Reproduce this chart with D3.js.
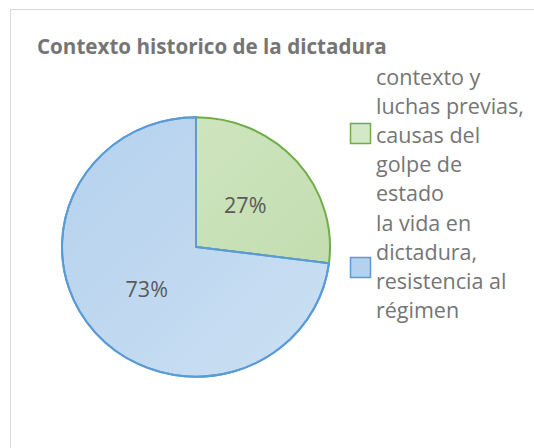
<!DOCTYPE html>
<html>
<head>
<meta charset="utf-8">
<script src="https://cdn.jsdelivr.net/npm/d3@7"></script>
<style>
  body { margin: 0; background: #fff; }
  svg { display: block; font-family: "Open Sans", sans-serif; }
</style>
</head>
<body>
<svg id="chart" width="534" height="448"></svg>
<script>
// chart data
var title = "Contexto historico de la dictadura";
var categories = [
  ["contexto y", "luchas previas,", "causas del", "golpe de", "estado"],
  ["la vida en", "dictadura,", "resistencia al", "régimen"]
];
var values = [27, 73];
var fills = [["#d3e8c6", "#bfdaa9"], ["#b5d1ed", "#cbe0f3"]];
var strokes = ["#70ad47", "#5b9bd5"];

var svg = d3.select("#chart");
var defs = svg.append("defs");

fills.forEach(function(f, i) {
  var g = defs.append("linearGradient")
    .attr("id", "grad" + i)
    .attr("gradientUnits", "userSpaceOnUse")
    .attr("x1", -134).attr("y1", -134).attr("x2", 134).attr("y2", 134);
  g.append("stop").attr("offset", "0%").attr("stop-color", f[0]);
  g.append("stop").attr("offset", "100%").attr("stop-color", f[1]);
});

// outer frame
svg.append("rect")
  .attr("x", 10.5).attr("y", 9.5)
  .attr("width", 600).attr("height", 600)
  .attr("fill", "#fff")
  .attr("stroke", "#d9d9d9");

svg.append("text")
  .attr("x", 37).attr("y", 54)
  .attr("font-size", 20.6)
  .attr("font-weight", "bold")
  .attr("fill", "#757575")
  .text(title);

var cx = 196, cy = 247, r = 134, sy = 0.968;

var pie = d3.pie().sort(null).value(function(d) { return d; });
var arcs = pie(values);
var arc = d3.arc().innerRadius(0).outerRadius(r);
var labelArc = d3.arc().innerRadius(r * 0.49).outerRadius(r * 0.49);

var g = svg.append("g").attr("transform", "translate(" + cx + "," + cy + ") scale(1," + sy + ")");

g.selectAll("path.slice")
  .data(arcs)
  .enter().append("path")
  .attr("class", "slice")
  .attr("d", arc)
  .attr("fill", function(d, i) { return "url(#grad" + i + ")"; })
  .attr("stroke", function(d, i) { return strokes[i]; })
  .attr("stroke-width", 2)
  .attr("stroke-linejoin", "round");

// blue outline over the shared edge, green one on its outer rim
g.append("path")
  .datum(arcs[1])
  .attr("d", arc)
  .attr("fill", "none")
  .attr("stroke", strokes[1])
  .attr("stroke-width", 2);

svg.selectAll("text.pct")
  .data(arcs)
  .enter().append("text")
  .attr("class", "pct")
  .attr("x", function(d) { return cx + labelArc.centroid(d)[0]; })
  .attr("y", function(d) { return cy + labelArc.centroid(d)[1] * sy; })
  .attr("text-anchor", "middle")
  .attr("dy", "0.36em")
  .attr("font-size", 21.5)
  .attr("fill", "#595959")
  .text(function(d) { return d.data + "%"; });

// legend
var lineH = 29.1;
var firstLine = 85;
var boxY = [123, 257];
var start = 0;
categories.forEach(function(lines, i) {
  var leg = svg.append("g").attr("class", "leg");
  leg.append("rect")
    .attr("x", 350.5).attr("y", boxY[i] + 0.5)
    .attr("width", 20).attr("height", 20)
    .attr("fill", fills[i][0])
    .attr("stroke", strokes[i])
    .attr("stroke-width", 1.5);
  var t = leg.append("text")
    .attr("font-size", 21.5)
    .attr("fill", "#757575");
  lines.forEach(function(line, j) {
    t.append("tspan")
      .attr("x", 376)
      .attr("y", firstLine + (start + j) * lineH)
      .text(line);
  });
  start += lines.length;
});
</script>
</body>
</html>
